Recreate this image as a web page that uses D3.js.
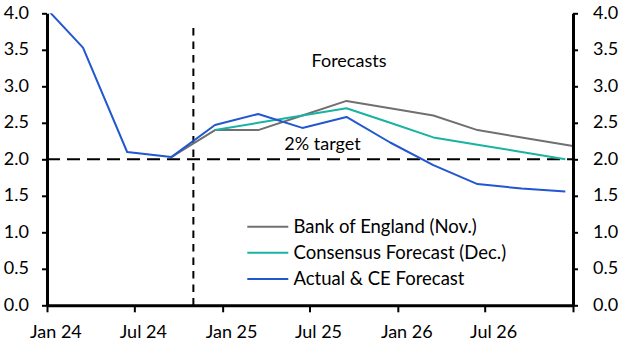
<!DOCTYPE html>
<html>
<head>
<meta charset="utf-8">
<script src="https://cdn.jsdelivr.net/npm/d3@7"></script>
<style>
  html, body { margin: 0; padding: 0; background: #fff; }
  svg { display: block; }
  text { font-family: Lato, "Liberation Sans", sans-serif; fill: #000; }
</style>
</head>
<body>
<svg id="chart" width="629" height="355"></svg>
<script>
// ---- data ----
const quarters = ["2023Q4","2024Q1","2024Q2","2024Q3","2024Q4","2025Q1","2025Q2","2025Q3","2025Q4","2026Q1","2026Q2","2026Q3","2026Q4","2027Q1"];
const actualCE = [4.17, 3.53, 2.10, 2.03, 2.47, 2.62, 2.43, 2.58, 2.23, 1.92, 1.66, 1.60, 1.56, null];
const consensus = [null, null, null, null, 2.40, 2.50, 2.60, 2.70, 2.50, 2.30, 2.20, 2.10, 2.00, null];
const boe = [null, null, null, 2.03, 2.40, 2.40, 2.60, 2.80, 2.70, 2.60, 2.40, 2.30, 2.20, 2.10];
const yTicks = [0, 0.5, 1, 1.5, 2, 2.5, 3, 3.5, 4];
const xTickLabels = ["Jan 24","Jul 24","Jan 25","Jul 25","Jan 26","Jul 26",""];
const seriesNames = ["Bank of England (Nov.)","Consensus Forecast (Dec.)","Actual & CE Forecast"];
const target = 2.0;
const forecastStart = "2024-11";

// ---- helpers ----
function quarterMid(q) {
  const y = +q.slice(0, 4), n = +q.slice(5);
  return new Date(y, (n - 1) * 3 + 2, 16);
}

const svg = d3.select("#chart");
const L = 47, R = 573, T = 13.3, B = 305.3;
const x = d3.scaleTime().domain([new Date(2024, 0, 1), new Date(2027, 0, 1)]).range([L, R]);
const y = d3.scaleLinear().domain([0, 4]).range([B, T]);

svg.append("defs").append("clipPath").attr("id", "plot")
  .append("rect").attr("x", L).attr("y", T).attr("width", R - L).attr("height", B - T);

// target dashed line
svg.append("line")
  .attr("x1", L).attr("x2", R).attr("y1", y(target)).attr("y2", y(target))
  .attr("stroke", "#000").attr("stroke-width", 2).attr("stroke-dasharray", "13,7");

// forecast divider
const fs = forecastStart.split("-");
const xf = x(new Date(+fs[0], +fs[1] - 1, 1));
svg.append("line")
  .attr("x1", xf).attr("x2", xf).attr("y1", 28).attr("y2", B)
  .attr("stroke", "#000").attr("stroke-width", 2).attr("stroke-dasharray", "7.5,6");

const colors = ["#707070", "#19b3a3", "#2157cf"];
const allSeries = [boe, consensus, actualCE];

const line = d3.line()
  .defined(d => d.v != null)
  .x(d => x(d.t)).y(d => y(d.v));

const g = svg.append("g").attr("clip-path", "url(#plot)");
allSeries.forEach((s, i) => {
  const pts = quarters.map((q, j) => ({ t: quarterMid(q), v: s[j] }));
  g.append("path").datum(pts)
    .attr("d", line).attr("fill", "none")
    .attr("stroke", colors[i]).attr("stroke-width", 2)
    .attr("stroke-linejoin", "round");
});

// axes
const fmt = d3.format(".1f");
const yl = svg.append("g").attr("transform", `translate(${L},0)`)
  .call(d3.axisLeft(y).tickValues(yTicks).tickFormat(fmt).tickSize(5).tickSizeOuter(0).tickPadding(13));
const yr = svg.append("g").attr("transform", `translate(${R},0)`)
  .call(d3.axisRight(y).tickValues(yTicks).tickFormat(fmt).tickSize(5).tickSizeOuter(0).tickPadding(15));
const xTicks = d3.range(0, 37, 6).map(m => new Date(2024, m, 1));
const xa = svg.append("g").attr("transform", `translate(0,${B})`)
  .call(d3.axisBottom(x).tickValues(xTicks).tickFormat((d, i) => xTickLabels[i]).tickSize(7).tickSizeOuter(0).tickPadding(13));

[yl, yr, xa].forEach(a => {
  a.select(".domain").attr("stroke", "#000").attr("stroke-width", 3);
  a.selectAll(".tick line").attr("stroke", "#000").attr("stroke-width", 2);
  a.selectAll(".tick text").style("font-size", "18px").attr("fill", "#000");
});
yl.selectAll(".tick text").attr("dy", "0.27em");
yr.selectAll(".tick text").attr("dy", "0.27em");
const halfMonth = (x(new Date(2024, 1, 1)) - x(new Date(2024, 0, 1))) / 2;
xa.selectAll(".tick text").attr("dx", halfMonth + 1);

// annotations
svg.append("text").attr("x", 349).attr("y", 66.5).attr("text-anchor", "middle")
  .style("font-size", "18px").text("Forecasts");
svg.append("text").attr("x", 322.5).attr("y", 150).attr("text-anchor", "middle")
  .style("font-size", "18px").text("2% target");

// legend
const legendY = [226.7, 252.7, 279];
seriesNames.forEach((n, i) => {
  svg.append("line").attr("x1", 247.3).attr("x2", 288.3)
    .attr("y1", legendY[i]).attr("y2", legendY[i])
    .attr("stroke", colors[i]).attr("stroke-width", 2);
  svg.append("text").attr("x", 293.5).attr("y", legendY[i]).attr("dy", "0.35em")
    .style("font-size", "18.5px").text(n);
});
</script>
</body>
</html>
